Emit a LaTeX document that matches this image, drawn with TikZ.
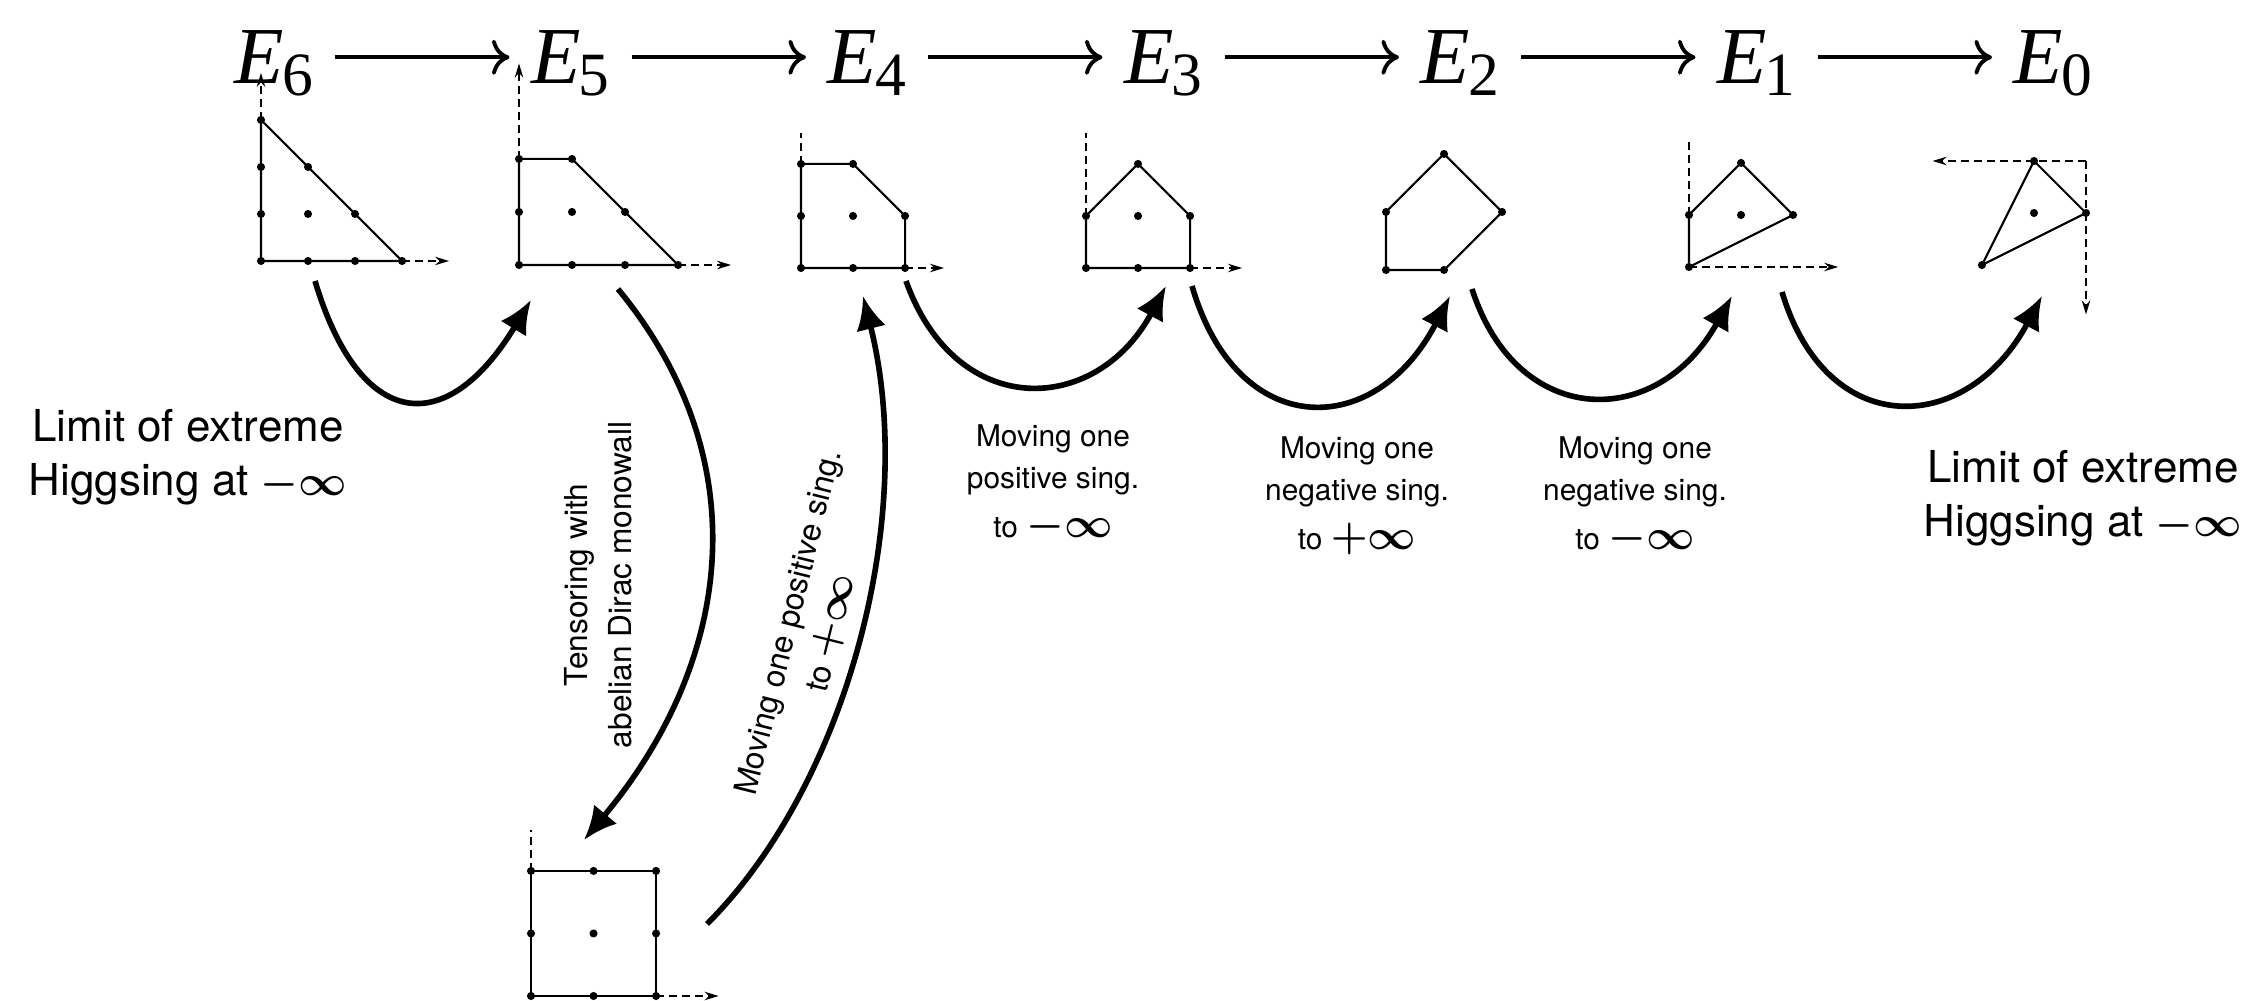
\documentclass[tikz,border=0pt]{standalone}
\usepackage{amsmath}
\usepackage[no-math]{fontspec}
\setmainfont{TeX Gyre Heros}
\newfontfamily\timesf{Liberation Serif}
\usetikzlibrary{arrows.meta}

% E_n in the top row
\newcommand{\Elab}[1]{\textit{E}\kern-0.5pt\raisebox{-3.4pt}{\fontsize{17.5}{17.5}\selectfont #1}}
% heavier -infinity, +infinity
\newcommand{\minf}{{\large$\boldsymbol{-\infty}$}}
\newcommand{\pinf}{{\large$\boldsymbol{+\infty}$}}
\def\dotr{1.15pt}

\tikzset{
  elabel/.style={font=\timesf\fontsize{23}{27}\selectfont, inner sep=6pt, anchor=base},
  longarr/.style={-{Computer Modern Rightarrow[length=5pt,width=10pt]}, line width=1.1pt},
  curvearr/.style={-{Latex[length=9.5pt,width=8.5pt]}, line width=1.6pt},
  polyline/.style={line width=0.6pt},
  axisdash/.style={dash pattern=on 2.2pt off 1.5pt, line width=0.5pt},
  axisarr/.style={axisdash, -{Stealth[length=4pt,width=2.4pt]}},
  lbl/.style={font=\fontsize{8.5}{12}\selectfont, align=center, inner sep=1pt},
  biglbl/.style={font=\fontsize{12.5}{15.5}\selectfont, align=center, inner sep=1pt},
  rotlbl/.style={font=\fontsize{9}{12.5}\selectfont, align=center, inner sep=1pt},
}

\begin{document}
\begin{tikzpicture}[x=0.01cm, y=-0.01cm]
  \useasboundingbox (0,0) rectangle (2263,1001);

  % top row
  \node[elabel] (e6) at (274,84) {\Elab{6}};
  \node[elabel] (e5) at (570.5,84) {\Elab{5}};
  \node[elabel] (e4) at (867,84) {\Elab{4}};
  \node[elabel] (e3) at (1163.5,84) {\Elab{3}};
  \node[elabel] (e2) at (1460,84) {\Elab{2}};
  \node[elabel] (e1) at (1756.5,84) {\Elab{1}};
  \node[elabel] (e0) at (2053,84) {\Elab{0}};
  \foreach \a/\b in {e6/e5,e5/e4,e4/e3,e3/e2,e2/e1,e1/e0}
    \draw[longarr] ([yshift=7.6pt]\a.base east) -- ([yshift=7.6pt]\b.base west);

  % E6 polygon
  \begin{scope}[shift={(261,261)}, x=0.47cm, y=0.47cm]
    \draw[polyline] (0,0) -- (3,0) -- (0,3) -- cycle;
    \draw[axisarr] (3,0) -- (4,0);
    \draw[axisarr] (0,3) -- (0,4);
    \foreach \p in {(0,0),(1,0),(2,0),(3,0),(0,1),(1,1),(2,1),(0,2),(1,2),(0,3)}
      \fill \p circle[radius=\dotr];
  \end{scope}

  % E5 polygon
  \begin{scope}[shift={(519,265)}, x=0.53cm, y=0.53cm]
    \draw[polyline] (0,0) -- (3,0) -- (1,2) -- (0,2) -- cycle;
    \draw[axisarr] (3,0) -- (4,0);
    \draw[axisarr] (0,2) -- (0,3.8);
    \foreach \p in {(0,0),(1,0),(2,0),(3,0),(0,1),(1,1),(2,1),(0,2),(1,2)}
      \fill \p circle[radius=\dotr];
  \end{scope}

  % E4 polygon
  \begin{scope}[shift={(801,268)}, x=0.52cm, y=0.52cm]
    \draw[polyline] (0,0) -- (2,0) -- (2,1) -- (1,2) -- (0,2) -- cycle;
    \draw[axisarr] (2,0) -- (2.75,0);
    \draw[axisdash] (0,2) -- (0,2.6);
    \foreach \p in {(0,0),(1,0),(2,0),(0,1),(1,1),(2,1),(0,2),(1,2)}
      \fill \p circle[radius=\dotr];
  \end{scope}

  % E3 polygon
  \begin{scope}[shift={(1086,268)}, x=0.52cm, y=0.52cm]
    \draw[polyline] (0,0) -- (2,0) -- (2,1) -- (1,2) -- (0,1) -- cycle;
    \draw[axisarr] (2,0) -- (3,0);
    \draw[axisdash] (0,1) -- (0,2.6);
    \foreach \p in {(0,0),(1,0),(2,0),(0,1),(1,1),(2,1),(1,2)}
      \fill \p circle[radius=\dotr];
  \end{scope}

  % E2 polygon
  \begin{scope}[shift={(1386,270)}, x=0.58cm, y=0.58cm]
    \draw[polyline] (0,0) -- (1,0) -- (2,1) -- (1,2) -- (0,1) -- cycle;
    \foreach \p in {(0,0),(1,0),(2,1),(1,2),(0,1)}
      \fill \p circle[radius=\dotr];
  \end{scope}

  % E1 polygon
  \begin{scope}[shift={(1689,267)}, x=0.52cm, y=0.52cm]
    \draw[polyline] (0,0) -- (2,1) -- (1,2) -- (0,1) -- cycle;
    \draw[axisarr] (0,0) -- (2.87,0);
    \draw[axisdash] (0,1) -- (0,2.5);
    \foreach \p in {(0,0),(0,1),(1,2),(2,1),(1,1)}
      \fill \p circle[radius=\dotr];
  \end{scope}

  % E0 polygon (axes pointing left and down)
  \begin{scope}[shift={(2086,161)}, x={(-0.52cm,0)}, y={(0,-0.52cm)}]
    \draw[axisarr] (0,0) -- (2.95,0);
    \draw[axisarr] (0,0) -- (0,2.95);
    \draw[polyline] (1,0) -- (0,1) -- (2,2) -- cycle;
    \foreach \p in {(1,0),(0,1),(2,2),(1,1)}
      \fill \p circle[radius=\dotr];
  \end{scope}

  % square at the bottom
  \begin{scope}[shift={(531,996)}, x=0.625cm, y=0.625cm]
    \draw[polyline] (0,0) rectangle (2,2);
    \draw[axisarr] (2,0) -- (3,0);
    \draw[axisdash] (0,2) -- (0,2.65);
    \foreach \p in {(0,0),(1,0),(2,0),(0,1),(1,1),(2,1),(0,2),(1,2),(2,2)}
      \fill \p circle[radius=\dotr];
  \end{scope}

  % ends of the curved arrows
  \coordinate (p6out) at (315,281);
  \coordinate (p5in) at (531,300);
  \coordinate (p5out) at (618,289);
  \coordinate (sqin) at (584,840);
  \coordinate (sqout) at (707,924);
  \coordinate (p4in) at (863,296);
  \coordinate (p4out) at (906,281);
  \coordinate (p3in) at (1166,286);
  \coordinate (p3out) at (1192,286);
  \coordinate (p2in) at (1450,296);
  \coordinate (p2out) at (1472,289);
  \coordinate (p1in) at (1732,296);
  \coordinate (p1out) at (1782,292);
  \coordinate (p0in) at (2042,296);

  \draw[curvearr] (p6out) .. controls +(45,150) and +(-85,140) .. (p5in);
  \draw[curvearr] (p5out) .. controls +(140,170) and +(150,-180) .. (sqin);
  \draw[curvearr] (sqout) .. controls +(140,-140) and +(55,220) .. (p4in);
  \draw[curvearr] (p4out) .. controls +(50,140) and +(-70,130) .. (p3in);
  \draw[curvearr] (p3out) .. controls +(45,155) and +(-75,145) .. (p2in);
  \draw[curvearr] (p2out) .. controls +(45,140) and +(-75,135) .. (p1in);
  \draw[curvearr] (p1out) .. controls +(45,150) and +(-75,140) .. (p0in);

  % labels
  \node[biglbl] (lim6) at (188,457) {Limit of extreme\\Higgsing at \minf};
  \node[biglbl] (lim0) at (2083,498) {Limit of extreme\\Higgsing at \minf};
  \node[lbl] (mv43) at (1053,484) {Moving one\\positive sing.\\[2pt]to \minf};
  \node[lbl] (mv32) at (1357,496) {Moving one\\negative sing.\\[2pt]to \pinf};
  \node[lbl] (mv21) at (1635,496) {Moving one\\negative sing.\\[2pt]to \minf};
  \node[rotlbl, rotate=90] (tens) at (598,585) {Tensoring with\\abelian Dirac monowall};
  \node[rotlbl, rotate=76] (mvsq) at (811,628) {Moving one positive sing.\\to \pinf};

\end{tikzpicture}
\end{document}
